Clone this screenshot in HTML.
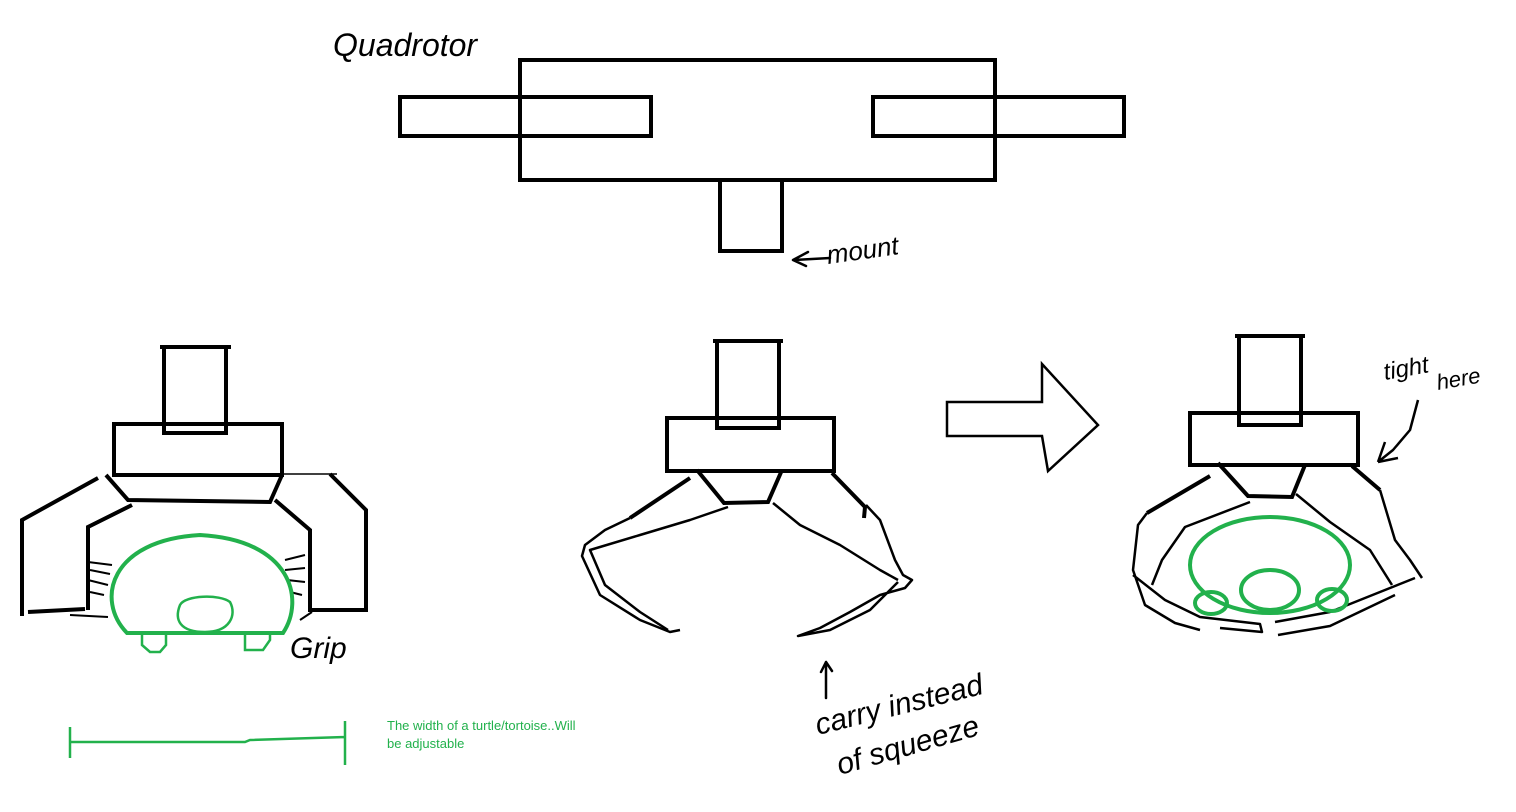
<!DOCTYPE html>
<html><head><meta charset="utf-8"><style>
html,body{margin:0;padding:0;background:#fff;}
svg{display:block}
text{font-family:"Liberation Sans",sans-serif;}
</style></head><body>
<svg width="1516" height="812" viewBox="0 0 1516 812" xmlns="http://www.w3.org/2000/svg">
<g fill="none" stroke="#000" stroke-width="4" stroke-linejoin="miter">
<rect x="520" y="60" width="475" height="120"/>
<rect x="400" y="97" width="251" height="39"/>
<rect x="873" y="97" width="251" height="39"/>
<path d="M720 180 V251 H782 V180"/>
</g>
<text x="333" y="56" font-size="32" font-style="italic">Quadrotor</text>
<g fill="none" stroke="#000" stroke-width="2.5" stroke-linecap="round">
<path d="M793 260 L808 252 M793 260 L806 266 M794 260 L830 258"/>
</g>
<text x="828" y="264" font-size="26" font-style="italic" transform="rotate(-8 828 264)">mount</text>

<g fill="none" stroke="#000" stroke-width="4">
<path d="M160 347 H231 M164 347 V433 H226 V347"/>
<rect x="114" y="424" width="168" height="51"/>
<path d="M106 475 L128 500 L270 502 L282 475"/>
<path d="M98 478 L22 520 V616 M28 612 L85 609"/>
<path d="M132 505 L88 527 V610"/>
<path d="M330 474 L366 510 V610 H310 V530 L275 500"/>
</g>
<path d="M283 474 H337" stroke="#000" stroke-width="1.5"/>
<g stroke="#000" stroke-width="2" fill="none">
<path d="M88 562 L112 565 M90 570 L110 574 M88 580 L108 585 M90 592 L104 595 M70 615 L108 617 M285 560 L305 555 M285 570 L305 568 M287 580 L305 582 M290 592 L302 595 M300 620 L312 612"/>
</g>
<g fill="none" stroke="#22b14c" stroke-width="4">
<path d="M127 633 C95 600 110 540 200 535 C292 540 305 600 283 633 Z"/>
</g>
<g fill="none" stroke="#22b14c" stroke-width="2.5">
<path d="M180 605 C185 595 220 594 230 602 C237 615 230 632 205 632 C180 632 174 620 180 605Z"/>
<path d="M142 634 V645 L150 652 H160 L166 645 V634"/>
<path d="M245 634 V650 H263 L270 640 V634"/>
</g>
<text x="290" y="658" font-size="30" font-style="italic">Grip</text>

<g fill="none" stroke="#22b14c" stroke-width="2.5">
<path d="M70 727 V758 M70 742 L245 742 L250 740 L345 737 M345 721 V765"/>
</g>
<text x="387" y="730" font-size="13" fill="#22b14c">The width of a turtle/tortoise..Will</text>
<text x="387" y="748" font-size="13" fill="#22b14c">be adjustable</text>

<g fill="none" stroke="#000" stroke-width="4">
<path d="M713 341 H783 M717 341 V428 H779 V341"/>
<rect x="667" y="418" width="167" height="53"/>
<path d="M697 470 L724 503 L768 502 L782 470"/>
<path d="M690 478 L630 518 M832 473 L865 507 L864 518"/>
</g>
<g fill="none" stroke="#000" stroke-width="2.5" stroke-linejoin="round">
<path d="M630 518 L605 530 L585 545 L582 556 L600 595 L640 620 L670 632 L680 630"/>
<path d="M728 507 L690 520 L640 535 L590 550 L605 585 L640 612 L668 630"/>
<path d="M773 503 L800 525 L840 545 L880 570 L898 580"/>
<path d="M866 505 L880 520 L895 560 L903 575 L912 580 L905 588 L880 595 L850 612 L820 628 L798 636 L830 630 L870 610 L898 582"/>
</g>
<g fill="none" stroke="#000" stroke-width="2.5" stroke-linecap="round">
<path d="M826 662 V698 M826 662 L821 672 M826 662 L832 671"/>
</g>
<text x="818" y="735" font-size="30" font-style="italic" transform="rotate(-14 818 735)">carry instead</text>
<text x="840" y="775" font-size="30" font-style="italic" transform="rotate(-16 840 775)">of squeeze</text>

<path d="M947 402 L1042 402 L1042 364 L1098 425 L1048 471 L1042 436 L947 436 Z" fill="none" stroke="#000" stroke-width="2.5"/>

<g fill="none" stroke="#000" stroke-width="4">
<path d="M1235 336 H1305 M1239 336 V425 H1301 V336"/>
<rect x="1190" y="413" width="168" height="52"/>
<path d="M1218 463 L1248 496 L1292 497 L1305 465"/>
<path d="M1210 476 L1147 513 M1352 466 L1380 490"/>
</g>
<g fill="none" stroke="#000" stroke-width="2.5" stroke-linejoin="round">
<path d="M1147 513 L1138 525 L1133 570 L1145 605 L1175 623 L1200 630 M1133 575 L1165 600 L1200 617 L1260 624 L1262 632 L1220 628"/>
<path d="M1250 502 L1185 527 L1162 560 L1152 585"/>
<path d="M1380 490 L1395 540 L1410 560 L1422 578"/>
<path d="M1296 494 L1330 522 L1370 550 L1392 585"/>
<path d="M1275 622 L1330 612 L1380 592 L1415 578 M1278 635 L1330 626 L1395 595"/>
<path d="M1418 400 L1410 430 L1393 450 L1378 462 M1378 462 L1385 442 M1378 462 L1398 458"/>
</g>
<g fill="none" stroke="#22b14c" stroke-width="4">
<ellipse cx="1270" cy="565" rx="80" ry="48"/>
<ellipse cx="1270" cy="590" rx="29" ry="20"/>
<ellipse cx="1211" cy="603" rx="16" ry="11"/>
<ellipse cx="1332" cy="600" rx="15" ry="11"/>
</g>
<text x="1385" y="380" font-size="24" font-style="italic" transform="rotate(-10 1385 380)">tight</text>
<text x="1438" y="390" font-size="22" font-style="italic" transform="rotate(-10 1438 390)">here</text>
</svg>
</body></html>
